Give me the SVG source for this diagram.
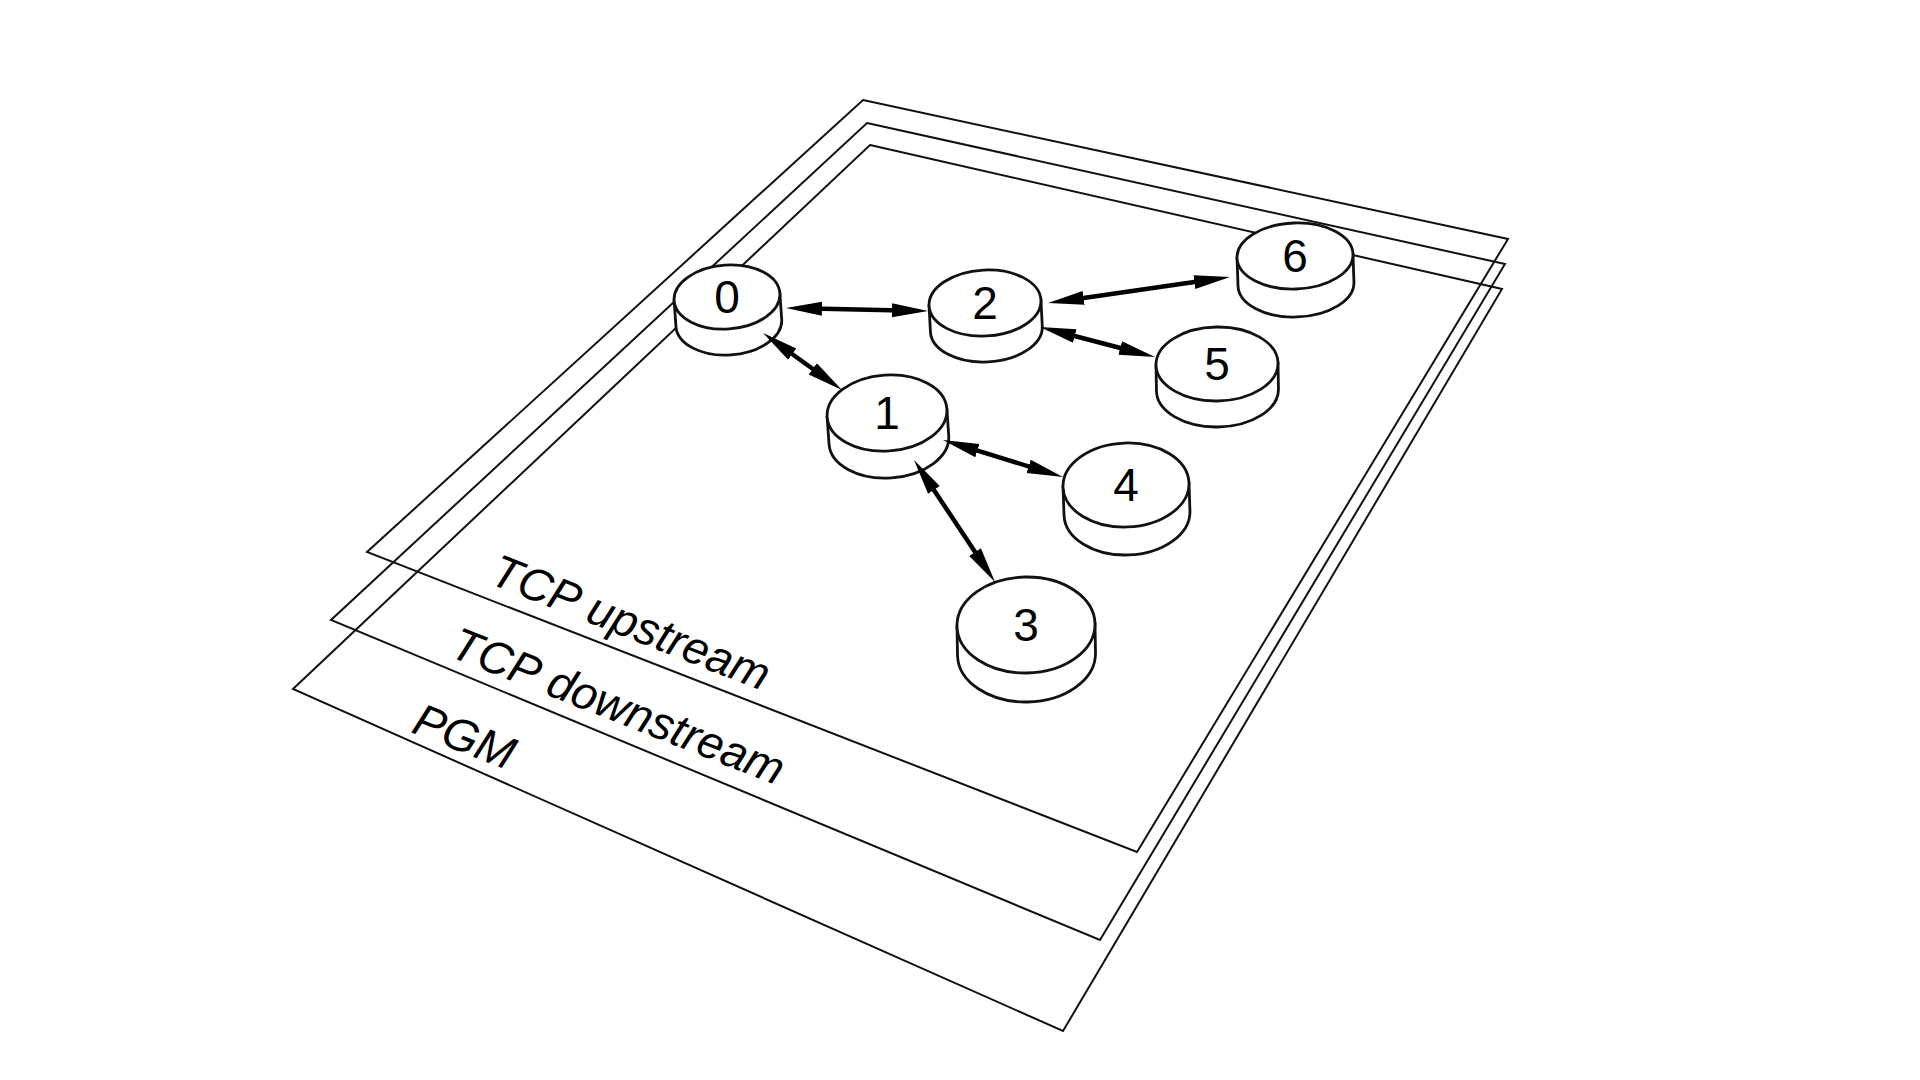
<svg xmlns="http://www.w3.org/2000/svg" width="1920" height="1080" viewBox="0 0 1920 1080">
  <style>
    .plane { fill: none; stroke: #111; stroke-width: 2; stroke-linejoin: miter; }
    .cyl { fill: #fff; stroke: #111; stroke-width: 2.8; }
    .num { font-family: "Liberation Sans", Arial, sans-serif; font-size: 46px; fill: #000; text-anchor: middle; }
    .layer { font-family: "Liberation Sans", Arial, sans-serif; font-size: 46px; font-style: italic; fill: #000; }
    .link { stroke: #000; stroke-width: 4.5; fill: none; marker-start: url(#head); marker-end: url(#head); }
  </style>
  <defs>
    <marker id="head" viewBox="0 -8 36 16" refX="21" refY="0" markerWidth="36" markerHeight="16" markerUnits="userSpaceOnUse" orient="auto-start-reverse">
      <path d="M0,-7 L36,0 L0,7 Z" fill="#000"/>
    </marker>
  </defs>
  <rect width="1920" height="1080" fill="#fff"/>

  <!-- stacked protocol layers -->
  <g id="layers">
    <polygon id="layer-pgm" class="plane" points="870,145 1502,289 1063,1031 293,689"/>
    <polygon id="layer-tcp-down" class="plane" points="867,123 1505,264 1100,940 331,620"/>
    <polygon id="layer-tcp-up" class="plane" points="863,100 1508,239 1137,852 367,552"/>
  </g>

  <g id="layer-labels">
    <text class="layer" transform="translate(488,583) rotate(21.5)">TCP upstream</text>
    <text class="layer" transform="translate(448,656) rotate(21.5)">TCP downstream</text>
    <text class="layer" transform="translate(410,732) rotate(21.5)">PGM</text>
  </g>

  <!-- nodes: short cylinders, top ellipse centred at the origin -->
  <g id="node-0" transform="translate(727,297) rotate(-4)">
    <path class="cyl" d="M-53,0 L-53,26 A53,32 0 0 0 53,26 L53,0 Z"/>
    <ellipse class="cyl" cx="0" cy="0" rx="53" ry="32"/>
    <text class="num" x="0" y="16" transform="rotate(4)">0</text>
  </g>
  <g id="node-2" transform="translate(985,303) rotate(-3)">
    <path class="cyl" d="M-56,0 L-56,26 A56,33 0 0 0 56,26 L56,0 Z"/>
    <ellipse class="cyl" cx="0" cy="0" rx="56" ry="33"/>
    <text class="num" x="0" y="16" transform="rotate(3)">2</text>
  </g>
  <g id="node-6" transform="translate(1295,256) rotate(-2)">
    <path class="cyl" d="M-58,0 L-58,28 A58,33 0 0 0 58,28 L58,0 Z"/>
    <ellipse class="cyl" cx="0" cy="0" rx="58" ry="33"/>
    <text class="num" x="0" y="16" transform="rotate(2)">6</text>
  </g>
  <g id="node-5" transform="translate(1217,364) rotate(-1)">
    <path class="cyl" d="M-61,0 L-61,26 A61,37 0 0 0 61,26 L61,0 Z"/>
    <ellipse class="cyl" cx="0" cy="0" rx="61" ry="37"/>
    <text class="num" x="0" y="16" transform="rotate(1)">5</text>
  </g>
  <g id="node-1" transform="translate(887,413) rotate(-4)">
    <path class="cyl" d="M-60,0 L-60,27 A60,38 0 0 0 60,27 L60,0 Z"/>
    <ellipse class="cyl" cx="0" cy="0" rx="60" ry="38"/>
    <text class="num" x="0" y="16" transform="rotate(4)">1</text>
  </g>
  <g id="node-4" transform="translate(1126,485) rotate(-2)">
    <path class="cyl" d="M-63,0 L-63,28 A63,42 0 0 0 63,28 L63,0 Z"/>
    <ellipse class="cyl" cx="0" cy="0" rx="63" ry="42"/>
    <text class="num" x="0" y="16" transform="rotate(2)">4</text>
  </g>
  <g id="node-3" transform="translate(1026,625) rotate(-1)">
    <path class="cyl" d="M-69,0 L-69,29 A69,48 0 0 0 69,29 L69,0 Z"/>
    <ellipse class="cyl" cx="0" cy="0" rx="69" ry="48"/>
    <text class="num" x="0" y="16" transform="rotate(1)">3</text>
  </g>

  <!-- bidirectional links -->
  <g id="links">
    <line class="link" x1="801" y1="308.3" x2="913" y2="310.7"/>
    <line class="link" x1="775.2" y1="341.8" x2="829.8" y2="381.2"/>
    <line class="link" x1="957.3" y1="444.4" x2="1048.7" y2="472.6"/>
    <line class="link" x1="922.3" y1="472.5" x2="986.7" y2="569.5"/>
    <line class="link" x1="1062.9" y1="300.9" x2="1215.1" y2="279.1"/>
    <line class="link" x1="1054.5" y1="330.8" x2="1140.5" y2="353.2"/>
  </g>
</svg>
